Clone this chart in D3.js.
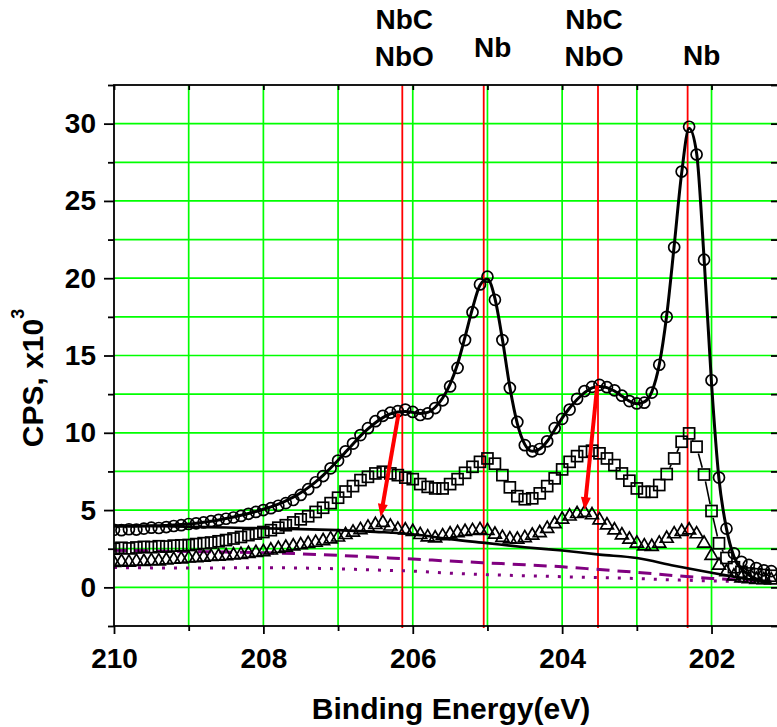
<!DOCTYPE html>
<html>
<head>
<meta charset="utf-8">
<script src="https://cdn.jsdelivr.net/npm/d3@7"></script>
<style>
  html, body { margin: 0; padding: 0; background: #fff; }
  svg { display: block; }
  text { font-family: "Liberation Sans", Arial, Helvetica, sans-serif; font-weight: bold; fill: #000; }
</style>
</head>
<body>
<svg id="chart" width="777" height="727"></svg>
<script>
// Nb 3d XPS region: binding energy grid (eV), 0.1 eV steps
const energy = [
  210.0, 209.9, 209.8, 209.7, 209.6, 209.5, 209.4, 209.3, 209.2, 209.1,
  209.0, 208.9, 208.8, 208.7, 208.6, 208.5, 208.4, 208.3, 208.2, 208.1,
  208.0, 207.9, 207.8, 207.7, 207.6, 207.5, 207.4, 207.3, 207.2, 207.1,
  207.0, 206.9, 206.8, 206.7, 206.6, 206.5, 206.4, 206.3, 206.2, 206.1,
  206.0, 205.9, 205.8, 205.7, 205.6, 205.5, 205.4, 205.3, 205.2, 205.1,
  205.0, 204.9, 204.8, 204.7, 204.6, 204.5, 204.4, 204.3, 204.2, 204.1,
  204.0, 203.9, 203.8, 203.7, 203.6, 203.5, 203.4, 203.3, 203.2, 203.1,
  203.0, 202.9, 202.8, 202.7, 202.6, 202.5, 202.4, 202.3, 202.2, 202.1,
  202.0, 201.9, 201.8, 201.7, 201.6, 201.5, 201.4, 201.3, 201.2
];

// Counts (x10^3 CPS), circles: measured spectrum
const circleCps = [
  3.72, 3.70, 3.76, 3.74, 3.80, 3.86, 3.84, 3.90, 3.97, 4.02,
  4.10, 4.14, 4.20, 4.28, 4.36, 4.44, 4.52, 4.62, 4.76, 4.88,
  5.00, 5.12, 5.28, 5.45, 5.65, 5.98, 6.35, 6.80, 7.20, 7.70,
  8.20, 8.80, 9.30, 9.85, 10.30, 10.75, 11.10, 11.30, 11.40, 11.50,
  11.35, 11.15, 11.25, 11.60, 12.10, 13.00, 14.20, 16.00, 17.80, 19.60,
  20.10, 18.60, 16.00, 12.90, 10.70, 9.20, 8.80, 8.95, 9.45, 10.30,
  10.90, 11.50, 12.20, 12.70, 12.97, 13.10, 12.95, 12.75, 12.40, 12.05,
  11.90, 11.95, 12.60, 14.40, 17.50, 22.00, 26.90, 29.80, 28.00, 21.20,
  13.40, 7.10, 3.80, 2.20, 1.65, 1.45, 1.25, 1.10, 1.05
];

// Fitted envelope through the circle spectrum
const envelopeFit = [
  3.95, 3.95, 3.96, 3.96, 3.97, 3.98, 3.99, 4.01, 4.03, 4.06,
  4.10, 4.15, 4.21, 4.28, 4.36, 4.45, 4.55, 4.66, 4.78, 4.91,
  5.05, 5.21, 5.39, 5.60, 5.84, 6.12, 6.45, 6.83, 7.25, 7.72,
  8.22, 8.75, 9.28, 9.80, 10.25, 10.65, 10.98, 11.22, 11.35, 11.38,
  11.32, 11.25, 11.32, 11.65, 12.25, 13.15, 14.45, 16.20, 18.05, 19.55,
  19.95, 18.70, 16.05, 12.95, 10.60, 9.25, 8.80, 8.95, 9.45, 10.20,
  10.95, 11.60, 12.15, 12.60, 12.90, 13.00, 12.92, 12.70, 12.38, 12.05,
  11.88, 12.00, 12.65, 14.40, 17.60, 22.10, 26.80, 29.70, 28.10, 21.30,
  13.20, 7.00, 3.80, 2.00, 1.20, 0.80, 0.55, 0.40, 0.30
];

// Squares spectrum
const squareCps = [
  2.50, 2.56, 2.52, 2.58, 2.62, 2.60, 2.66, 2.64, 2.70, 2.72,
  2.74, 2.80, 2.86, 2.90, 2.98, 3.06, 3.16, 3.26, 3.38, 3.48,
  3.58, 3.70, 3.86, 4.02, 4.20, 4.40, 4.60, 4.88, 5.15, 5.45,
  5.80, 6.20, 6.55, 6.94, 7.15, 7.37, 7.48, 7.37, 7.26, 7.10,
  7.00, 6.68, 6.50, 6.40, 6.40, 6.68, 7.00, 7.41, 7.80, 8.12,
  8.34, 8.00, 7.26, 6.47, 5.90, 5.70, 5.76, 6.08, 6.55, 7.05,
  7.63, 8.12, 8.49, 8.77, 8.84, 8.67, 8.34, 7.91, 7.37, 6.90,
  6.40, 6.18, 6.18, 6.62, 7.33, 8.34, 9.42, 9.96, 9.10, 7.30,
  4.94, 2.85, 1.90, 1.30, 1.00, 0.90, 0.85, 0.80, 0.75
];

// Triangles spectrum
const triangleCps = [
  1.60, 1.66, 1.62, 1.68, 1.66, 1.72, 1.70, 1.76, 1.80, 1.82,
  1.88, 1.90, 1.94, 1.98, 2.00, 2.04, 2.08, 2.12, 2.18, 2.24,
  2.30, 2.40, 2.50, 2.58, 2.66, 2.74, 2.82, 2.90, 3.00, 3.12,
  3.24, 3.40, 3.56, 3.72, 3.88, 4.05, 4.18, 3.95, 3.75, 3.70,
  3.60, 3.40, 3.25, 3.18, 3.32, 3.44, 3.52, 3.60, 3.66, 3.72,
  3.66, 3.42, 3.22, 3.12, 3.10, 3.20, 3.36, 3.52, 3.80, 4.10,
  4.40, 4.60, 4.76, 4.83, 4.68, 4.35, 4.02, 3.70, 3.38, 3.10,
  2.85, 2.67, 2.63, 2.85, 3.16, 3.45, 3.60, 3.70, 3.45, 2.85,
  2.05, 1.42, 1.00, 0.72, 0.60, 0.54, 0.50, 0.48, 0.47
];

// Backgrounds, on a 0.5 eV grid
const baseEnergy = [210.0, 209.5, 209.0, 208.5, 208.0, 207.5, 207.0, 206.5, 206.0, 205.5,
                    205.0, 204.5, 204.0, 203.5, 203.0, 202.5, 202.0, 201.5, 201.2];
const shirleyBg  = [4.00, 3.97, 3.92, 3.87, 3.82, 3.77, 3.70, 3.59, 3.44, 3.12,
                    2.86, 2.60, 2.38, 2.12, 1.90, 1.40, 0.94, 0.52, 0.27];
const dashedBg   = [2.40, 2.36, 2.32, 2.28, 2.24, 2.17, 2.07, 1.95, 1.83, 1.70,
                    1.58, 1.46, 1.33, 1.15, 0.97, 0.76, 0.58, 0.46, 0.40];
const dottedBg   = [1.28, 1.26, 1.25, 1.26, 1.27, 1.25, 1.20, 1.12, 1.05, 0.92,
                    0.82, 0.75, 0.69, 0.63, 0.57, 0.48, 0.42, 0.38, 0.36];

// Reference peak positions and their labels
const peakEnergy = [206.14, 205.05, 203.52, 202.32];
const peakLabels = [["NbC", "NbO"], ["Nb"], ["NbC", "NbO"], ["Nb"]];

// Arrows: [energy, counts] start and tip
const arrowFrom = [[206.19, 11.24], [203.53, 13.05]];
const arrowTo   = [[206.43, 4.55],  [203.70, 5.00]];

// Axis ticks
const xTicks = [210, 208, 206, 204, 202];
const xMinorTicks = [209, 207, 205, 203];
const yTicks = [0, 5, 10, 15, 20, 25, 30];
const yMinorTicks = [-2.5, 2.5, 7.5, 12.5, 17.5, 22.5, 27.5, 32.5];

// ---------------------------------------------------------------
const svg = d3.select("#chart");
const X0 = 114, X1 = 778, Y0 = 85, Y1 = 626;
const x = d3.scaleLinear().domain([210, 201.11]).range([X0, X1]);
const y = d3.scaleLinear().domain([-2.5, 32.5]).range([Y1, Y0]);

svg.append("rect").attr("width", 777).attr("height", 727).attr("fill", "#fff");

svg.append("defs").append("clipPath").attr("id", "plotClip")
  .append("rect").attr("x", X0).attr("y", Y0).attr("width", X1 - X0).attr("height", Y1 - Y0);

// Grid
const grid = svg.append("g").attr("stroke", "#00ff00").attr("stroke-width", 1.7);
const vGrid = xTicks.concat(xMinorTicks).filter(d => d < 210);
grid.selectAll("line.v").data(vGrid).join("line")
  .attr("x1", d => x(d)).attr("x2", d => x(d)).attr("y1", Y0).attr("y2", Y1);
const hGrid = yTicks.concat(yMinorTicks).filter(d => d > -2.5 && d < 32.5);
grid.selectAll("line.h").data(hGrid).join("line")
  .attr("x1", X0).attr("x2", X1).attr("y1", d => y(d)).attr("y2", d => y(d));

// Peak reference lines
svg.append("g").selectAll("line").data(peakEnergy).join("line")
  .attr("x1", d => x(d)).attr("x2", d => x(d)).attr("y1", Y0).attr("y2", Y1 + 2)
  .attr("stroke", "#ff0000").attr("stroke-width", 1.8);

const plot = svg.append("g").attr("clip-path", "url(#plotClip)");

const baseLine = d3.line().x((d, i) => x(baseEnergy[i])).y(d => y(d)).curve(d3.curveMonotoneX);
plot.append("path").datum(dottedBg).attr("d", baseLine).attr("fill", "none")
  .attr("stroke", "#800080").attr("stroke-width", 3).attr("stroke-dasharray", "3,9");
plot.append("path").datum(dashedBg).attr("d", baseLine).attr("fill", "none")
  .attr("stroke", "#800080").attr("stroke-width", 3).attr("stroke-dasharray", "13,8");
plot.append("path").datum(shirleyBg).attr("d", baseLine).attr("fill", "none")
  .attr("stroke", "#000").attr("stroke-width", 2.6);

// Line + symbol with the connector interrupted around each symbol
function gappedConnector(values, gap) {
  const pts = values.map((v, i) => [x(energy[i]), y(v)]);
  const segs = [];
  for (let i = 0; i < pts.length - 1; i++) {
    const [ax, ay] = pts[i], [bx, by] = pts[i + 1];
    const dx = bx - ax, dy = by - ay, L = Math.hypot(dx, dy);
    if (L > 2 * gap + 1) {
      const ux = dx / L, uy = dy / L;
      segs.push([ax + ux * gap, ay + uy * gap, bx - ux * gap, by - uy * gap]);
    }
  }
  return segs;
}

function drawConnector(values, gap) {
  plot.append("g").selectAll("line").data(gappedConnector(values, gap)).join("line")
    .attr("x1", d => d[0]).attr("y1", d => d[1]).attr("x2", d => d[2]).attr("y2", d => d[3])
    .attr("stroke", "#000").attr("stroke-width", 1.6);
}

// Triangles
drawConnector(triangleCps, 7);
const triSym = d3.symbol().type(d3.symbolTriangle).size(72);
plot.append("g").selectAll("path").data(triangleCps).join("path")
  .attr("d", triSym)
  .attr("transform", (d, i) => `translate(${x(energy[i])},${y(d)})`)
  .attr("fill", "none").attr("stroke", "#000").attr("stroke-width", 1.7);

// Squares
drawConnector(squareCps, 7);
plot.append("g").selectAll("rect").data(squareCps).join("rect")
  .attr("x", (d, i) => x(energy[i]) - 5.5).attr("y", d => y(d) - 5.5)
  .attr("width", 11).attr("height", 11)
  .attr("fill", "none").attr("stroke", "#000").attr("stroke-width", 1.7);

// Circles + fitted envelope
plot.append("g").selectAll("circle").data(circleCps).join("circle")
  .attr("cx", (d, i) => x(energy[i])).attr("cy", d => y(d)).attr("r", 5.5)
  .attr("fill", "none").attr("stroke", "#000").attr("stroke-width", 1.7);
const fitLine = d3.line().x((d, i) => x(energy[i])).y(d => y(d)).curve(d3.curveMonotoneX);
plot.append("path").datum(envelopeFit).attr("d", fitLine).attr("fill", "none")
  .attr("stroke", "#000").attr("stroke-width", 3);

// Arrows
const arrows = svg.append("g");
arrowFrom.forEach((from, k) => {
  const to = arrowTo[k];
  const x1 = x(from[0]), y1 = y(from[1]), x2 = x(to[0]), y2 = y(to[1]);
  const dx = x2 - x1, dy = y2 - y1, L = Math.hypot(dx, dy);
  const ux = dx / L, uy = dy / L, head = 13, hw = 5;
  const bx = x2 - ux * head, by = y2 - uy * head;
  arrows.append("line").attr("x1", x1).attr("y1", y1).attr("x2", bx + ux).attr("y2", by + uy)
    .attr("stroke", "#ff0000").attr("stroke-width", 4);
  arrows.append("polygon")
    .attr("points", `${x2},${y2} ${bx - uy * hw},${by + ux * hw} ${bx + uy * hw},${by - ux * hw}`)
    .attr("fill", "#ff0000");
});

// Axes
function styleAxis(g) {
  g.select(".domain").remove();
  g.selectAll(".tick line").attr("stroke", "#000").attr("stroke-width", 1.8);
  g.selectAll("text").style("font-size", "28px").style("font-weight", "bold")
    .style("font-family", "'Liberation Sans', Arial, sans-serif").attr("fill", "#000");
}
svg.append("g").attr("transform", `translate(0,${Y1})`)
  .call(d3.axisBottom(x).tickValues(xTicks).tickSize(8).tickPadding(14).tickFormat(d3.format("d")))
  .call(styleAxis);
svg.append("g").attr("transform", `translate(0,${Y1})`)
  .call(d3.axisBottom(x).tickValues(xMinorTicks).tickSize(5).tickFormat(""))
  .call(styleAxis);
svg.append("g").attr("transform", `translate(${X0},0)`)
  .call(d3.axisLeft(y).tickValues(yTicks).tickSize(10).tickPadding(8).tickFormat(d3.format("d")))
  .call(styleAxis);
svg.append("g").attr("transform", `translate(${X0},0)`)
  .call(d3.axisLeft(y).tickValues(yMinorTicks).tickSize(6).tickFormat(""))
  .call(styleAxis);
// inward ticks on top and right
svg.append("g").attr("transform", `translate(0,${Y0})`)
  .call(d3.axisBottom(x).tickValues(xTicks.concat(xMinorTicks)).tickSize(5).tickFormat(""))
  .call(styleAxis);
svg.append("g").attr("transform", `translate(${X1},0)`)
  .call(d3.axisLeft(y).tickValues(yTicks.concat(yMinorTicks)).tickSize(7).tickFormat(""))
  .call(styleAxis);

// Frame
svg.append("rect").attr("x", X0).attr("y", Y0).attr("width", X1 - X0).attr("height", Y1 - Y0)
  .attr("fill", "none").attr("stroke", "#000").attr("stroke-width", 1.8);

// Peak labels above the frame
const labelShift = [2, 9, -4, 14];
const labelBase = [[29, 66], [57], [29, 66], [65]];
peakLabels.forEach((lines, k) => {
  lines.forEach((t, j) => {
    svg.append("text").attr("x", x(peakEnergy[k]) + labelShift[k]).attr("y", labelBase[k][j])
      .attr("text-anchor", "middle").style("font-size", "28px").text(t);
  });
});

// Axis titles
svg.append("text").attr("x", 451).attr("y", 719).attr("text-anchor", "middle")
  .style("font-size", "30px").text("Binding Energy(eV)");
const yTitle = svg.append("text").attr("transform", "translate(43,378) rotate(-90)")
  .attr("text-anchor", "middle").style("font-size", "30px");
yTitle.append("tspan").text("CPS, x10");
yTitle.append("tspan").attr("dy", -19).style("font-size", "18px").text("3");
</script>
</body>
</html>
